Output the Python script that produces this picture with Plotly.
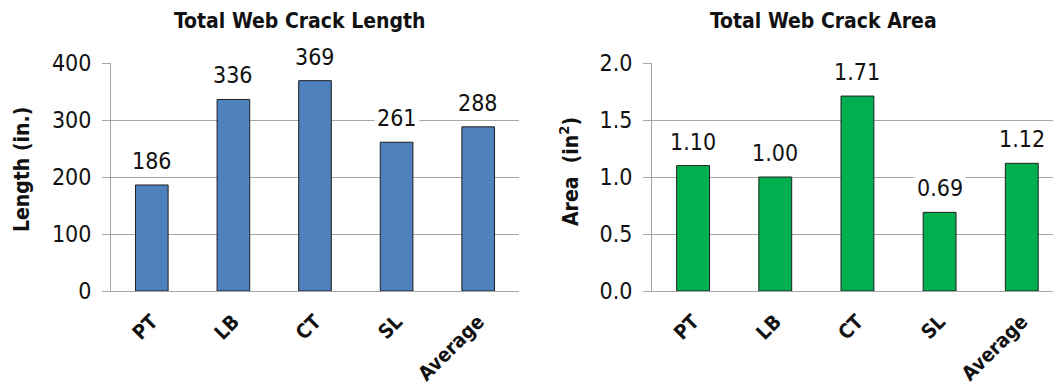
import plotly.graph_objects as go

categories = ["PT", "LB", "CT", "SL", "Average"]
crack_length = [186, 336, 369, 261, 288]
crack_area = [1.10, 1.00, 1.71, 0.69, 1.12]
length_ticks = [0, 100, 200, 300, 400]
area_ticks = [0.0, 0.5, 1.0, 1.5, 2.0]

FONT = "Liberation Sans Narrow, Arial Narrow, DejaVu Sans Condensed, Liberation Sans, Arial, sans-serif"
W, H = 1053, 387

fig = go.Figure()
fig.add_trace(go.Bar(
    x=categories, y=crack_length, xaxis="x", yaxis="y",
    marker=dict(color="#4F81BD", line=dict(color="#1F1F1F", width=1)),
    width=0.4, hoverinfo="x+y",
))
fig.add_trace(go.Bar(
    x=categories, y=crack_area, xaxis="x2", yaxis="y2",
    marker=dict(color="#00B050", line=dict(color="#1F1F1F", width=1)),
    width=0.4, hoverinfo="x+y",
))

ydom = [(H - 291) / H, (H - 63) / H]
common_x = dict(
    type="category", showgrid=False, showline=True, linecolor="#A6A6A6",
    linewidth=1, ticks="", tickangle=-45, automargin=False,
    tickfont=dict(family=FONT, size=20, color="#111111", weight="bold"),
    ticklabelstandoff=10,
)
common_y = dict(
    showgrid=True, gridcolor="#A6A6A6", gridwidth=1, zeroline=False,
    showline=True, linecolor="#A6A6A6", linewidth=1, automargin=False,
    ticks="outside", ticklen=8, tickcolor="#A6A6A6",
    tickfont=dict(family=FONT, size=23, color="#111111"),
    ticklabelstandoff=6,
)

fig.update_layout(
    width=W, height=H, margin=dict(l=0, r=0, t=0, b=0),
    paper_bgcolor="white", plot_bgcolor="white", showlegend=False,
    bargap=0.6,
    xaxis=dict(common_x, domain=[111 / W, 519 / W], range=[-0.5, 4.5], anchor="y"),
    yaxis=dict(common_y, domain=ydom, range=[0, 400], tickvals=length_ticks, anchor="x"),
    xaxis2=dict(common_x, domain=[652 / W, 1.0], range=[-0.5, 4.38], anchor="y2"),
    yaxis2=dict(common_y, domain=ydom, range=[0, 2.0], tickvals=area_ticks,
                tickformat=".1f", anchor="x2"),
)

# value labels above each bar, on a white box that breaks the gridlines
for xa, ya, vals, fmt in (("x", "y", crack_length, "{:.0f}"), ("x2", "y2", crack_area, "{:.2f}")):
    for c, v in zip(categories, vals):
        fig.add_annotation(
            x=c, y=v, xref=xa, yref=ya, text=fmt.format(v), showarrow=False,
            xanchor="center", yanchor="bottom", yshift=8, bgcolor="white", borderpad=2,
            font=dict(family=FONT, size=23, color="#111111"),
        )

# chart titles
for x, t in ((300, "Total Web Crack Length"), (823, "Total Web Crack Area")):
    fig.add_annotation(
        x=x / W, y=1 - 21 / H, xref="paper", yref="paper", text=f"<b>{t}</b>",
        xanchor="center", yanchor="middle",
        showarrow=False, font=dict(family=FONT, size=21, color="#111111"),
    )

# axis titles
for x, y, t in ((22, 170, "Length (in.)"), (569, 172, "Area  (in<sup>2</sup>)")):
    fig.add_annotation(
        x=x / W, y=1 - y / H, xref="paper", yref="paper", text=f"<b>{t}</b>",
        xanchor="center", yanchor="middle", showarrow=False, textangle=-90,
        font=dict(family=FONT, size=21, color="#111111"),
    )

fig.write_html("out.html")
